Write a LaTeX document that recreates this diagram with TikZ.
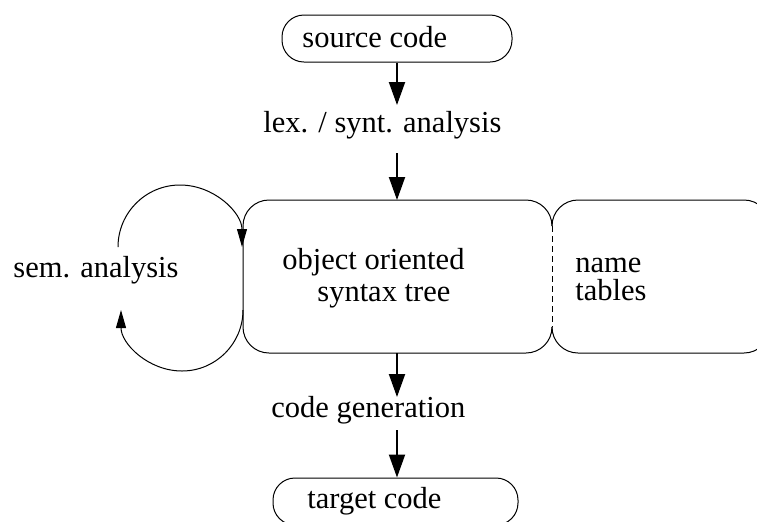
\documentclass[tikz,border=0pt]{standalone}
\usepackage{fontspec}
\setmainfont{Liberation Serif}
\newfontfamily\labelfont{Liberation Serif}
\usetikzlibrary{arrows.meta}
\begin{document}
\begin{tikzpicture}[x=0.5pt,y=-0.5pt,
  lbl/.style={inner sep=0pt, anchor=base west, font=\labelfont\fontsize{15.25}{18}\selectfont},
  pill/.style={draw, line width=0.5pt, rounded corners=11pt, minimum width=#1,
               minimum height=23.5pt, inner sep=0pt},
  flow/.style={line width=1pt, -{Triangle[length=11.5pt,width=8pt]}},
  loopback/.style={line width=0.5pt, -{Triangle[length=9pt,width=5pt]}},
  panel/.style={line width=0.5pt, rounded corners=13pt}]
\useasboundingbox (0,0) rectangle (757,521);
\clip (0,0) rectangle (757,521);

% input and output terminals
\node[pill=115pt] (src) at (397,38.5) {};
\node[lbl] (srcText) at (302,47) {source code};
\node[pill=122.5pt] (tgt) at (395.5,501.5) {};
\node[lbl] (tgtText) at (307,508) {target code};

% processing steps
\node[lbl] (lex) at (263,132) {lex. / synt. analysis};
\node[lbl] (gen) at (271,417) {code generation};
\node[lbl] (sem) at (13,277) {sem. analysis};

% syntax tree and name tables, sharing a dashed border
\draw[panel] (552,226) -- (552,200) -- (243,200) -- (243,353) -- (552,353) -- (552,327);
\draw[panel] (552,226) -- (552,200) -- (770,200) -- (770,353) -- (552,353) -- (552,327);
\draw[line width=0.5pt, dash pattern=on 3pt off 2pt] (552,226) -- (552,327);
\node[lbl] (astA) at (282,269) {object oriented};
\node[lbl] (astB) at (317,301) {syntax tree};
\node[lbl] (tabA) at (575,272) {name};
\node[lbl] (tabB) at (575,300) {tables};

% connector end points
\coordinate (lexIn) at (397,105);
\coordinate (lexOut) at (397,153);
\coordinate (astTop) at (397,200);
\coordinate (astBot) at (397,353);
\coordinate (genIn) at (397,397);
\coordinate (genOut) at (397,430);
\coordinate (semStart) at (118,247);
\coordinate (semBack) at (243,310);

% main flow
\draw[flow] (src.south -| lexIn) -- (lexIn);
\draw[flow] (lexOut) -- (astTop);
\draw[flow] (astBot) -- (genIn);
\draw[flow] (genOut) -- (genOut |- tgt.north);

% semantic analysis loop
\draw[loopback] (semStart) arc[start angle=180, end angle=0, radius=31pt];
\draw[loopback] (semBack) arc[start angle=0, end angle=-180, radius=30.5pt];
\end{tikzpicture}
\end{document}
